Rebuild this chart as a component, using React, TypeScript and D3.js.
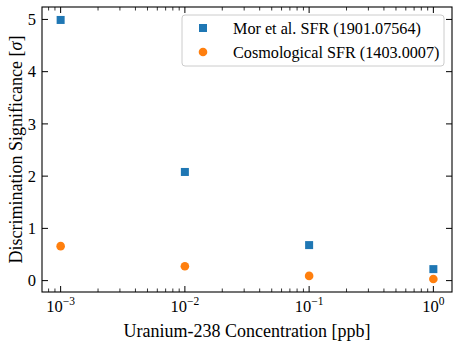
import * as d3 from 'd3';

const concentrations = [1e-3, 1e-2, 1e-1, 1];
const morSFR = [4.99, 2.08, 0.68, 0.22];
const cosmoSFR = [0.66, 0.276, 0.09, 0.03];
const yTicks = [0, 1, 2, 3, 4, 5];
const xTickExps = [-3, -2, -1, 0];
const seriesLabels = ['Mor et al. SFR (1901.07564)', 'Cosmological SFR (1403.0007)'];

const W = 460;
const H = 346;
const margin = { top: 7, right: 8, bottom: 54, left: 42 };
const font = '"Liberation Serif", "DejaVu Serif", serif';

export default function App() {
  const x = d3.scaleLog()
    .domain([Math.pow(10, -3.15), Math.pow(10, 0.15)])
    .range([margin.left, W - margin.right]);
  const y = d3.scaleLinear()
    .domain([-0.218, 5.238])
    .range([H - margin.bottom, margin.top]);

  const [x0, x1] = x.range();
  const [y0, y1] = y.range();

  // minor ticks on the log axis
  const minor: number[] = [];
  for (let e = -4; e <= 0; e++) {
    for (let m = 2; m <= 9; m++) {
      const v = m * Math.pow(10, e);
      if (v > x.domain()[0] && v < x.domain()[1]) minor.push(v);
    }
  }

  return (
    <svg width={W} height={H} style={{ position: 'absolute', left: 0, top: 0, background: '#fff' }}>
      {/* markers */}
      {concentrations.map((c, i) => (
        <rect key={'m' + i} x={x(c) - 4} y={y(morSFR[i]) - 4} width={8} height={8} fill="#1f77b4" />
      ))}
      {concentrations.map((c, i) => (
        <circle key={'c' + i} cx={x(c)} cy={y(cosmoSFR[i])} r={4.3} fill="#ff7f0e" />
      ))}

      {/* frame */}
      <rect x={x0} y={y1} width={x1 - x0} height={y0 - y1} fill="none" stroke="#000" strokeWidth={1.1} />

      {/* y ticks, inward on left and right */}
      {yTicks.map(t => (
        <g key={'y' + t}>
          <line x1={x0} x2={x0 + 6} y1={y(t)} y2={y(t)} stroke="#000" />
          <line x1={x1} x2={x1 - 6} y1={y(t)} y2={y(t)} stroke="#000" />
          <text x={x0 - 6} y={y(t)} dy="0.35em" textAnchor="end" fontFamily={font} fontSize={16.5}>{t}</text>
        </g>
      ))}

      {/* x major ticks */}
      {xTickExps.map(e => {
        const px = x(Math.pow(10, e));
        return (
          <g key={'x' + e}>
            <line x1={px} x2={px} y1={y0} y2={y0 - 6} stroke="#000" />
            <line x1={px} x2={px} y1={y1} y2={y1 + 6} stroke="#000" />
            <text x={px} y={y0 + 20} textAnchor="middle" fontFamily={font} fontSize={16.5}>
              10<tspan dy={-7} fontSize={11.5}>{e === 0 ? '0' : '\u2212' + Math.abs(e)}</tspan>
            </text>
          </g>
        );
      })}
      {minor.map((v, i) => (
        <g key={'n' + i}>
          <line x1={x(v)} x2={x(v)} y1={y0} y2={y0 - 3.5} stroke="#000" strokeWidth={0.8} />
          <line x1={x(v)} x2={x(v)} y1={y1} y2={y1 + 3.5} stroke="#000" strokeWidth={0.8} />
        </g>
      ))}

      {/* axis labels */}
      <text x={(x0 + x1) / 2} y={H - 9} textAnchor="middle" fontFamily={font} fontSize={18}>
        Uranium-238 Concentration [ppb]
      </text>
      <text transform={`translate(22,${(y0 + y1) / 2}) rotate(-90)`} textAnchor="middle" fontFamily={font} fontSize={18}>
        Discrimination Significance [<tspan fontStyle="italic">σ</tspan>]
      </text>

      {/* legend */}
      <rect x={182} y={15} width={262} height={51} rx={3} fill="#fff" fillOpacity={0.8} stroke="#ccc" strokeWidth={1} />
      <rect x={199} y={24} width={8} height={8} fill="#1f77b4" />
      <circle cx={203} cy={52} r={4.3} fill="#ff7f0e" />
      <text x={233} y={28} dy="0.35em" fontFamily={font} fontSize={16.2}>{seriesLabels[0]}</text>
      <text x={233} y={52} dy="0.35em" fontFamily={font} fontSize={16.2}>{seriesLabels[1]}</text>
    </svg>
  );
}
